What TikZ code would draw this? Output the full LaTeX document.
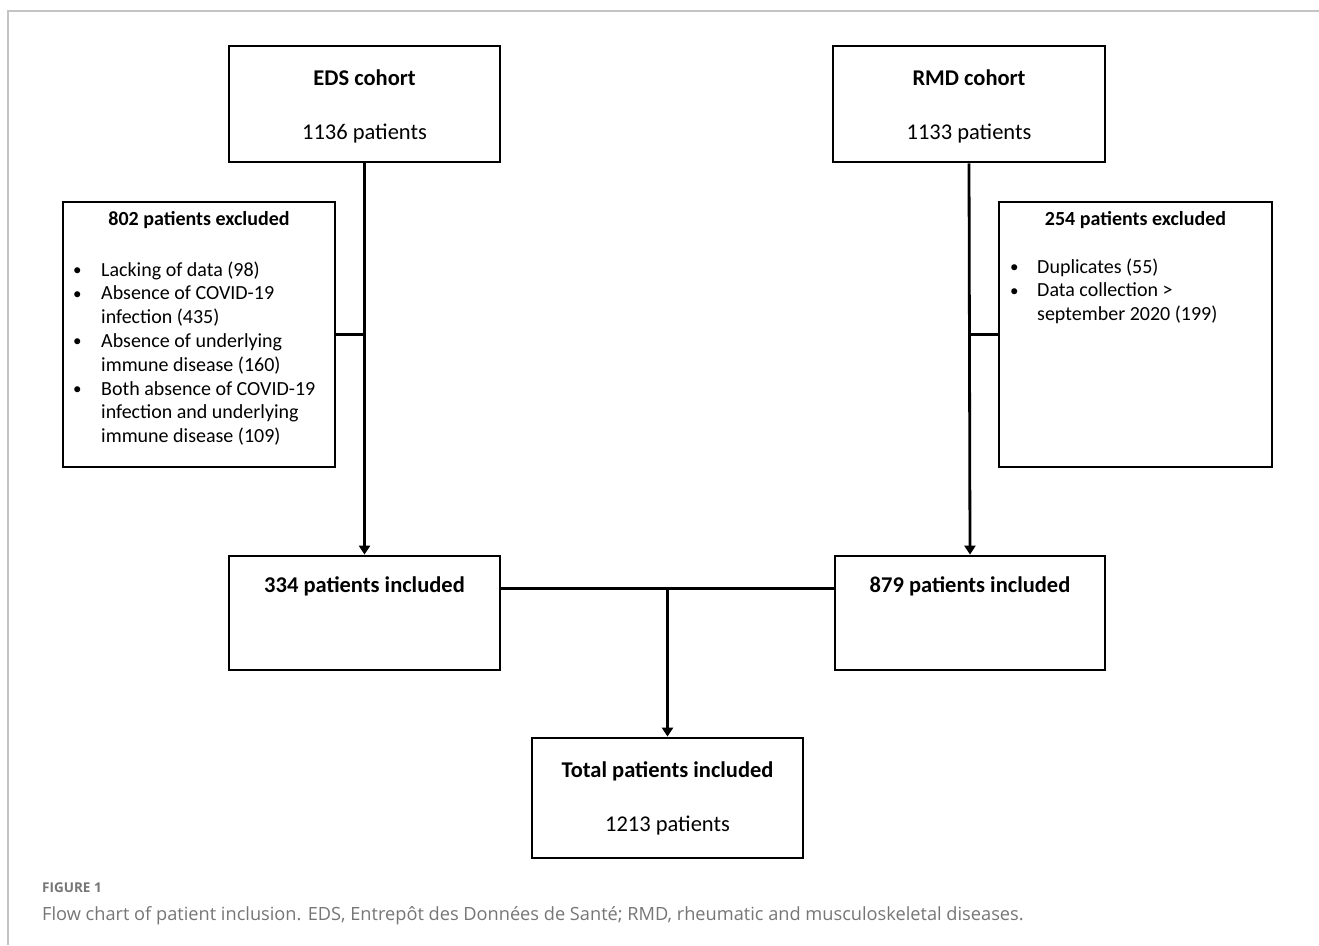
\documentclass[tikz,border=0pt]{standalone}
\usepackage{fontspec}
\setmainfont{Carlito}
\newfontfamily\capfont{Open Sans}
\usetikzlibrary{arrows.meta,calc}
\definecolor{framegray}{HTML}{C4C4C4}
\definecolor{capgray}{HTML}{767676}
\newcommand{\blt}{\raisebox{0.5pt}{\fontsize{17}{17}\selectfont•}}
\begin{document}
\begin{tikzpicture}[x=1pt,y=-1pt,
  box/.style={draw=black,line width=2.8pt,rectangle,inner sep=0pt,align=center},
  conn/.style={draw=black,line width=2.8pt},
  arr/.style={conn,-{Triangle[length=9pt,width=11pt]}},
  big/.style={font=\fontsize{22.5}{54}\selectfont},
  small/.style={font=\fontsize{20}{23.8}\selectfont}]
\useasboundingbox (0,0) rectangle (1319,945);
\fill[white] (0,0) rectangle (1319,945);
% frame
\draw[framegray,line width=2pt] (8,945) -- (8,11) -- (1319,11);
% top boxes
\node[box,big,minimum width=271pt,minimum height=116pt] (eds) at (364.5,104) {\rule{0pt}{20pt}\textbf{EDS cohort}\\1136 patients};
\node[box,big,minimum width=272pt,minimum height=116pt] (rmd) at (969,104) {\rule{0pt}{20pt}\textbf{RMD cohort}\\1133 patients};
% exclusion boxes
\node[box,minimum width=272pt,minimum height=265pt] (ex1) at (199,334.5) {};
\node[box,minimum width=273pt,minimum height=265pt] (ex2) at (1135.5,334.5) {};
\node[anchor=base,font=\fontsize{20}{23.8}\selectfont\bfseries] (ex1t) at (199,225) {802 patients excluded};
\node[small,anchor=base west,inner sep=0pt] (ex1l) at (73,276) {\begin{tabular}[t]{@{}p{28pt}@{}l@{}}
\blt & Lacking of data (98)\\
\blt & Absence of COVID-19\\
 & infection (435)\\
\blt & Absence of underlying\\
 & immune disease (160)\\
\blt & Both absence of COVID-19\\
 & infection and underlying\\
 & immune disease (109)
\end{tabular}};
\node[anchor=base,font=\fontsize{20}{23.8}\selectfont\bfseries] (ex2t) at (1135.5,225) {254 patients excluded};
\node[small,anchor=base west,inner sep=0pt] (ex2l) at (1010,273) {\begin{tabular}[t]{@{}p{27pt}@{}l@{}}
\blt & Duplicates (55)\\
\blt & Data collection >\\
 & september 2020 (199)
\end{tabular}};
% included boxes
\node[box,big,minimum width=271pt,minimum height=114pt,text height=16pt,text depth=58pt] (inc1) at (364.5,613) {\textbf{334 patients included}};
\node[box,big,minimum width=270pt,minimum height=114pt,text height=16pt,text depth=58pt] (inc2) at (970,613) {\textbf{879 patients included}};
\node[box,big,minimum width=271pt,minimum height=120pt] (tot) at (667.5,798) {\textbf{Total patients included}\\1213 patients};
% connectors
\draw[arr] (eds.south) -- (inc1.north);
\draw[arr] (rmd.south) -- (inc2.north);
\draw[conn] (ex1.east) -- (ex1.east -| eds.south);
\draw[conn] (ex2.west) -- (ex2.west -| rmd.south);
\coordinate (jl) at ($(inc1.north east)!0.29!(inc1.south east)$);
\coordinate (jr) at ($(inc2.north west)!0.29!(inc2.south west)$);
\coordinate (jm) at (jl -| tot.north);
\draw[conn] (jl) -- (jr);
\draw[arr] (jm) -- (tot.north);
% caption
\node[anchor=base west,inner sep=0pt,text=capgray,font=\capfont\bfseries\fontsize{13.5}{16}\selectfont] (fig) at (42,892) {FIGURE 1};
\node[anchor=base west,inner sep=0pt,text=capgray,font=\capfont\fontsize{18.2}{21}\selectfont] (cap) at (42,920) {Flow chart of patient inclusion. EDS, Entrepôt des Données de Santé; RMD, rheumatic and musculoskeletal diseases.};
\end{tikzpicture}
\end{document}
